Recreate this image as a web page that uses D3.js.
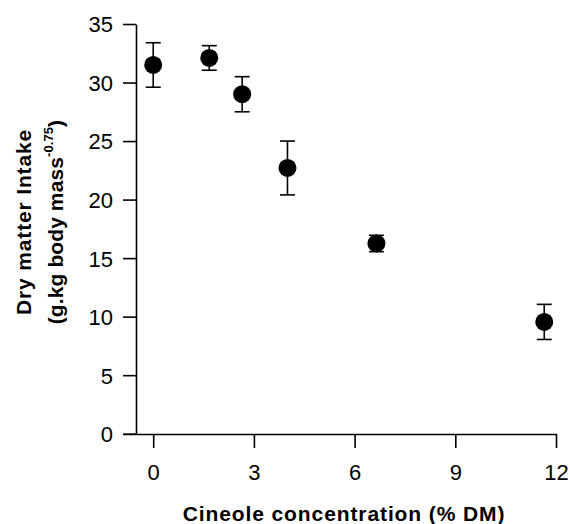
<!DOCTYPE html>
<html>
<head>
<meta charset="utf-8">
<script src="https://cdn.jsdelivr.net/npm/d3@7"></script>
<style>
  body { margin: 0; background: #fff; }
  svg { display: block; }
  text { font-family: "Liberation Sans", Arial, Helvetica, sans-serif; fill: #000; }
</style>
</head>
<body>
<svg id="chart" width="570" height="524"></svg>
<script>
const concentration = [0, 1.67, 2.65, 4.0, 6.65, 11.65];
const intake = [31.5, 32.1, 29.0, 22.7, 16.25, 9.55];
const errorSE = [1.9, 1.05, 1.5, 2.3, 0.7, 1.5];
const xTicks = [0, 3, 6, 9, 12];
const yTicks = [0, 5, 10, 15, 20, 25, 30, 35];

const svg = d3.select("#chart");
const x = d3.scaleLinear().domain([-0.9, 12]).range([123, 556]);
const y = d3.scaleLinear().domain([0, 35]).range([433.7, 24]);

const xAxis = svg.append("g").attr("transform", "translate(0,434)")
  .call(d3.axisBottom(x).tickValues(xTicks).tickSize(14).tickSizeOuter(0).tickPadding(17));
const yAxis = svg.append("g").attr("transform", "translate(136,0)")
  .call(d3.axisLeft(y).tickValues(yTicks).tickSize(13).tickSizeOuter(0).tickPadding(10));

[xAxis, yAxis].forEach(g => {
  g.selectAll("path, line").attr("stroke", "#000").attr("stroke-width", 1.6);
  g.selectAll("text").attr("font-size", 22).attr("font-family", "Liberation Sans, Arial, sans-serif").attr("fill", "#000");
});
xAxis.selectAll("text").attr("dy", "0.68em");
yAxis.selectAll("text").attr("dy", "0.36em");

const data = concentration.map((c, i) => ({ c, v: intake[i], e: errorSE[i] }));
const cap = 7.5;
const eb = svg.append("g").attr("stroke", "#000").attr("stroke-width", 1.6);
data.forEach(d => {
  eb.append("line").attr("x1", x(d.c)).attr("x2", x(d.c)).attr("y1", y(d.v + d.e)).attr("y2", y(d.v - d.e));
  eb.append("line").attr("x1", x(d.c) - cap).attr("x2", x(d.c) + cap).attr("y1", y(d.v + d.e)).attr("y2", y(d.v + d.e));
  eb.append("line").attr("x1", x(d.c) - cap).attr("x2", x(d.c) + cap).attr("y1", y(d.v - d.e)).attr("y2", y(d.v - d.e));
});
svg.append("g").selectAll("circle").data(data).join("circle")
  .attr("cx", d => x(d.c)).attr("cy", d => y(d.v)).attr("r", 9).attr("fill", "#000");

svg.append("text").attr("x", 344).attr("y", 521).attr("text-anchor", "middle")
  .attr("font-size", 21).attr("letter-spacing", 0.9).attr("font-weight", "bold").text("Cineole concentration (% DM)");

const yt = svg.append("g").attr("transform", "translate(0,222) rotate(-90)");
yt.append("text").attr("x", 0).attr("y", 31).attr("text-anchor", "middle")
  .attr("font-size", 21).attr("letter-spacing", 0.85).attr("font-weight", "bold").text("Dry matter Intake");
const l2 = yt.append("text").attr("x", 0).attr("y", 63).attr("text-anchor", "middle")
  .attr("font-size", 21).attr("letter-spacing", 0.1).attr("font-weight", "bold");
l2.append("tspan").text("(g.kg body mass");
l2.append("tspan").attr("font-size", 13).attr("dy", -10).text("-0.75");
l2.append("tspan").attr("dy", 10).text(")");
</script>
</body>
</html>
